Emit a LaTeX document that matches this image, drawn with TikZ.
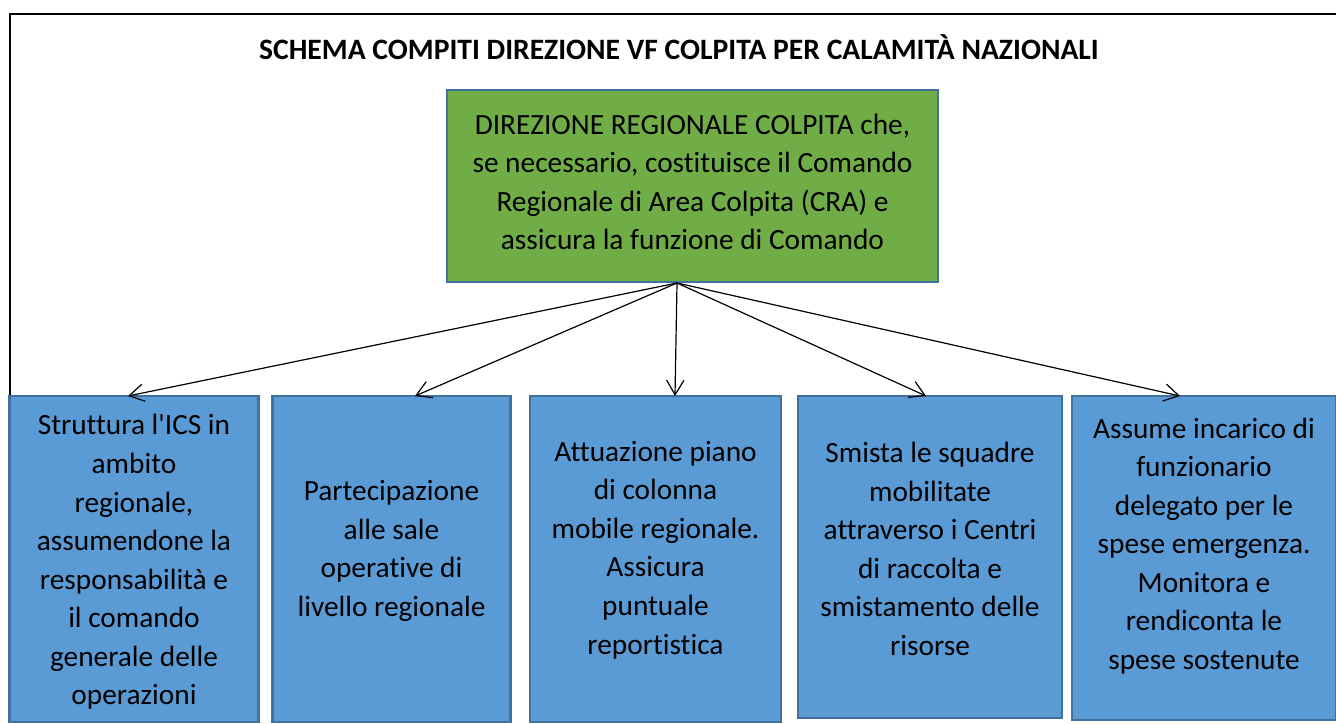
\documentclass[tikz,border=0pt]{standalone}
\usepackage{fontspec}
\setmainfont{Carlito}[Ligatures={NoCommon}]
\usetikzlibrary{arrows.meta}
\definecolor{boxblue}{HTML}{5B9BD5}
\definecolor{boxedge}{HTML}{41719C}
\definecolor{boxgreen}{HTML}{70AD47}
\tikzset{
  taskbox/.style={draw=boxedge, line width=1.6pt, fill=boxblue, inner sep=0pt},
  headbox/.style={draw=boxedge, line width=1.6pt, fill=boxgreen, inner sep=0pt},
  boxtext/.style={align=center, inner sep=0pt, font=\fontsize{22}{28.9}\selectfont},
  link/.style={line width=0.9pt, -{Straight Barb[length=11pt,width=13pt,line width=0.9pt]}},
  frameline/.style={line width=1.8pt}
}
\begin{document}
\begin{tikzpicture}[x=0.75pt,y=-0.75pt]
\useasboundingbox (0,0) rectangle (1336,724);
% outer frame
\coordinate (fa) at (10,396);
\coordinate (fb) at (10,14);
\coordinate (fc) at (1336,14);
\draw[frameline] (fa) -- (fb) -- (fc);
% title
\node[font=\fontsize{22.2}{26}\selectfont\bfseries, inner sep=0pt] (title) at (679,47) {SCHEMA COMPITI DIREZIONE VF COLPITA PER CALAMITÀ NAZIONALI};
% head box
\node[headbox, minimum width=491*0.75pt, minimum height=192*0.75pt] (g) at (692.5,186) {};
\node[boxtext] (gt) at (692.5,182) {DIREZIONE REGIONALE COLPITA che,\\se necessario, costituisce il Comando\\Regionale di Area Colpita (CRA) e\\assicura la funzione di Comando};
% task boxes
\node[taskbox, minimum width=249*0.75pt, minimum height=326*0.75pt] (b1) at (134,559) {};
\node[taskbox, minimum width=238*0.75pt, minimum height=326*0.75pt] (b2) at (391.5,559) {};
\node[taskbox, minimum width=251*0.75pt, minimum height=326*0.75pt] (b3) at (655.5,559) {};
\node[taskbox, minimum width=264*0.75pt, minimum height=322*0.75pt] (b4) at (930,557) {};
\node[taskbox, minimum width=264*0.75pt, minimum height=324*0.75pt] (b5) at (1204,558) {};
\node[boxtext] (t1) at (134,562) {Struttura l\textquotesingle ICS in\\ambito\\regionale,\\assumendone la\\responsabilità e\\il comando\\generale delle\\operazioni};
\node[boxtext] (t2) at (391.5,551) {Partecipazione\\alle sale\\operative di\\livello regionale};
\node[boxtext] (t3) at (655.5,550) {Attuazione piano\\di colonna\\mobile regionale.\\Assicura\\puntuale\\reportistica};
\node[boxtext] (t4) at (930,549) {Smista le squadre\\mobilitate\\attraverso i Centri\\di raccolta e\\smistamento delle\\risorse};
\node[boxtext] (t5) at (1204,546) {Assume incarico di\\funzionario\\delegato per le\\spese emergenza.\\Monitora e\\rendiconta le\\spese sostenute};
% arrow targets
\coordinate (s) at (677,283);
\coordinate (e1) at (128,396);
\coordinate (e2) at (415,396);
\coordinate (e3) at (675,396);
\coordinate (e4) at (926,396);
\coordinate (e5) at (1180,396);
\foreach \i in {1,...,5} \draw[link] (s) -- (e\i);
\end{tikzpicture}
\end{document}
